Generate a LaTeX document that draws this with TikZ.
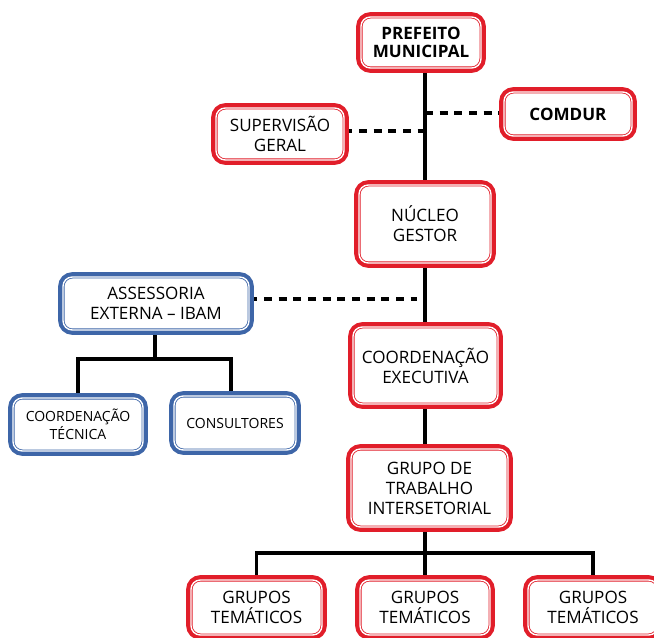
\documentclass[tikz,border=0pt]{standalone}
\usepackage{fontspec}
\setmainfont{Open Sans}
\usetikzlibrary{backgrounds}
\definecolor{rdc}{RGB}{225,30,42}
\definecolor{blc}{RGB}{62,102,168}
\tikzset{
  boxbase/.style={rounded corners=7pt, fill=white, line width=0.6pt,
    double=white, double distance=1.05pt, align=center, inner sep=0pt, text=black},
  redbox/.style={boxbase, preaction={draw=rdc, line width=7.2pt}, draw=rdc},
  bluebox/.style={boxbase, preaction={draw=blc, line width=7.2pt}, draw=blc},
  txt/.style={font=\fontsize{12.8}{15}\selectfont},
  txtb/.style={font=\fontsize{12.8}{13.5}\selectfont\bfseries},
  txts/.style={font=\fontsize{10.5}{10.8}\selectfont},
  conn/.style={line width=2.4pt, black},
  dconn/.style={line width=2.3pt, black, dash pattern=on 6pt off 5pt}
}
\begin{document}
\begin{tikzpicture}[x=0.75pt,y=-0.75pt]
\useasboundingbox (0,0) rectangle (654,638);
\node[redbox, minimum width=90pt, minimum height=38.25pt, txtb] (pref) at (421,42.5) {PREFEITO\\MUNICIPAL};
\node[redbox, minimum width=96pt, minimum height=39pt, txt] (sup) at (280,134) {SUPERVISÃO\\GERAL};
\node[redbox, minimum width=96pt, minimum height=33pt, txtb] (com) at (568,114) {COMDUR};
\node[redbox, minimum width=99pt, minimum height=58.5pt, txt] (nuc) at (425,224) {NÚCLEO\\GESTOR};
\node[bluebox, minimum width=139.5pt, minimum height=39.75pt, txt] (ass) at (156,303.5) {ASSESSORIA\\EXTERNA – IBAM};
\node[redbox, minimum width=108.75pt, minimum height=57.75pt, txt] (cex) at (425.5,365.5) {COORDENAÇÃO\\EXECUTIVA};
\node[bluebox, minimum width=97.5pt, minimum height=39.75pt, txts] (ctec) at (78,424.5) {COORDENAÇÃO\\TÉCNICA};
\node[bluebox, minimum width=91.5pt, minimum height=40.5pt, txts] (cons) at (235,423) {CONSULTORES};
\node[redbox, minimum width=117.75pt, minimum height=58.5pt, txt] (gti) at (429.5,488) {GRUPO DE\\TRABALHO\\INTERSETORIAL};
\node[redbox, minimum width=98.25pt, minimum height=41.25pt, txt] (gt1) at (256.5,607.5) {GRUPOS\\TEMÁTICOS};
\node[redbox, minimum width=97.5pt, minimum height=41.25pt, txt] (gt2) at (425,607.5) {GRUPOS\\TEMÁTICOS};
\node[redbox, minimum width=97.5pt, minimum height=41.25pt, txt] (gt3) at (593,607.5) {GRUPOS\\TEMÁTICOS};
\coordinate (j1) at (425,131);
\coordinate (j2) at (425,113);
\coordinate (j3) at (417,299);
\coordinate (j4) at (155,359);
\coordinate (b1) at (78,359);
\coordinate (b2) at (231,359);
\coordinate (g0) at (425,553);
\begin{pgfonlayer}{background}
\draw[conn] (pref.south -| nuc.north) -- (nuc.north);
\draw[dconn] (j1 -| sup.east) -- (j1);
\draw[dconn] (j2) -- (j2 -| com.west);
\draw[conn] (nuc.south) -- (cex.north -| nuc.south);
\draw[dconn] (j3 -| ass.east) -- (j3);
\draw[conn] (ass.south -| j4) -- (j4);
\draw[conn] (ctec.north -| b1) -- (b1) -- (b2) -- (cons.north -| b2);
\draw[conn] (cex.south -| nuc.south) -- (gti.north -| nuc.south);
\draw[conn] (gti.south -| g0) -- (gt2.north -| g0);
\draw[conn] (gt1.north) |- (g0) -| (gt3.north);
\end{pgfonlayer}
\end{tikzpicture}
\end{document}
